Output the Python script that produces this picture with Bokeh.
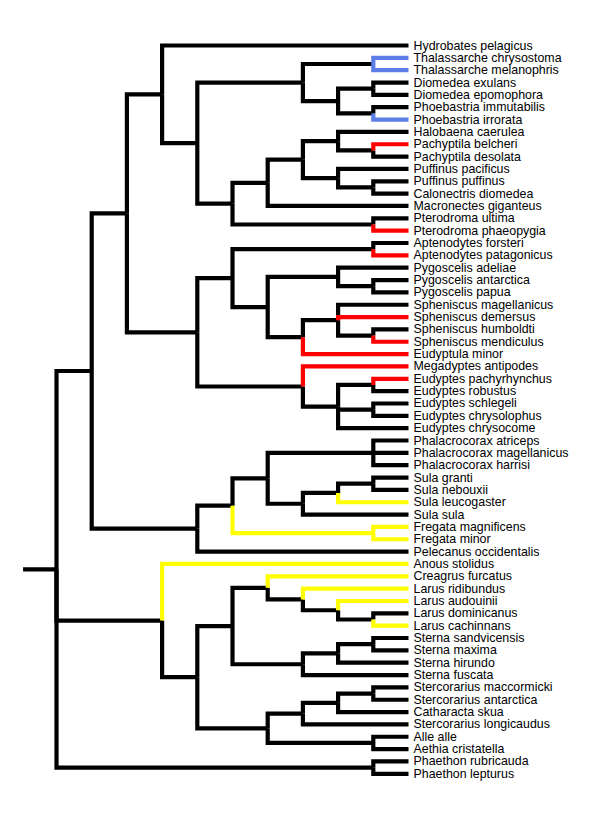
from bokeh.plotting import figure
from bokeh.models import ColumnDataSource, Range1d
from bokeh.core.properties import value
from bokeh.embed import file_html
from bokeh.resources import INLINE

# ---- data -------------------------------------------------------------
TIPS = [
    "Hydrobates pelagicus", "Thalassarche chrysostoma", "Thalassarche melanophris",
    "Diomedea exulans", "Diomedea epomophora", "Phoebastria immutabilis",
    "Phoebastria irrorata", "Halobaena caerulea", "Pachyptila belcheri",
    "Pachyptila desolata", "Puffinus pacificus", "Puffinus puffinus",
    "Calonectris diomedea", "Macronectes giganteus", "Pterodroma ultima",
    "Pterodroma phaeopygia", "Aptenodytes forsteri", "Aptenodytes patagonicus",
    "Pygoscelis adeliae", "Pygoscelis antarctica", "Pygoscelis papua",
    "Spheniscus magellanicus", "Spheniscus demersus", "Spheniscus humboldti",
    "Spheniscus mendiculus", "Eudyptula minor", "Megadyptes antipodes",
    "Eudyptes pachyrhynchus", "Eudyptes robustus", "Eudyptes schlegeli",
    "Eudyptes chrysolophus", "Eudyptes chrysocome", "Phalacrocorax atriceps",
    "Phalacrocorax magellanicus", "Phalacrocorax harrisi", "Sula granti",
    "Sula nebouxii", "Sula leucogaster", "Sula sula", "Fregata magnificens",
    "Fregata minor", "Pelecanus occidentalis", "Anous stolidus",
    "Creagrus furcatus", "Larus ridibundus", "Larus audouinii",
    "Larus dominicanus", "Larus cachinnans", "Sterna sandvicensis",
    "Sterna maxima", "Sterna hirundo", "Sterna fuscata",
    "Stercorarius maccormicki", "Stercorarius antarctica", "Catharacta skua",
    "Stercorarius longicaudus", "Alle alle", "Aethia cristatella",
    "Phaethon rubricauda", "Phaethon lepturus",
]
TIP_PARENT = [
    "B", "Thal", "Thal", "G", "G", "H", "H", "K", "Pach", "Pach", "L", "M", "M",
    "I", "Pter", "Pter", "Apt", "Apt", "Pyg", "Pyg2", "Pyg2", "S", "S", "Sph2",
    "Sph2", "R", "P", "U", "U", "V", "V", "T", "Phal", "Phal", "Phal", "Sula2",
    "Sula2", "CC", "BB", "Freg", "Freg", "Y", "EE", "II", "KK", "LL", "MM", "MM",
    "Ster2", "Ster2", "NN", "JJ", "Sterc2", "Sterc2", "PP", "OO", "Alc", "Alc",
    "Phae", "Phae",
]
TIP_LEVEL = 10

NODES = ["root", "X", "A", "B", "C", "D", "Thal", "F", "G", "H", "E", "I", "J",
         "K", "Pach", "L", "M", "Pter", "N", "O", "Apt", "Q", "Pyg", "Pyg2", "R",
         "S", "Sph2", "P", "T", "U", "V", "Y", "Z", "AA", "Phal", "BB", "CC",
         "Sula2", "Freg", "EE", "FF", "GG", "II", "KK", "LL", "MM", "JJ", "NN",
         "Ster2", "HH", "OO", "PP", "Sterc2", "Alc", "Phae"]
NODE_PARENT = [None, "root", "X", "A", "B", "C", "D", "D", "F", "F", "C", "E",
               "I", "J", "K", "J", "L", "E", "A", "N", "O", "O", "Q", "Pyg", "Q",
               "R", "S", "N", "P", "T", "T", "X", "Y", "Z", "AA", "AA", "BB",
               "CC", "Z", "root", "EE", "FF", "GG", "II", "KK", "LL", "GG", "JJ",
               "NN", "FF", "HH", "OO", "PP", "HH", "root"]
NODE_LEVEL = [0, 1, 2, 3, 4, 7, 9, 8, 9, 9, 5, 6, 7, 8, 9, 8, 9, 9, 4, 5, 9, 6,
              8, 9, 7, 8, 9, 7, 8, 9, 9, 4, 5, 6, 9, 7, 8, 9, 9, 3, 4, 5, 6, 7,
              8, 9, 7, 8, 9, 6, 7, 8, 9, 9, 9]
ROOT_EDGE = 0.95

BLUE_EDGES = ["Thalassarche chrysostoma", "Thalassarche melanophris",
              "Phoebastria irrorata"]
RED_EDGES = ["Pachyptila belcheri", "Pterodroma phaeopygia",
             "Aptenodytes patagonicus", "Spheniscus demersus",
             "Spheniscus mendiculus", "Eudyptula minor", "Megadyptes antipodes",
             "Eudyptes pachyrhynchus"]
YELLOW_EDGES = ["Sula leucogaster", "Freg", "Fregata magnificens",
                "Fregata minor", "Anous stolidus", "Creagrus furcatus",
                "Larus ridibundus", "Larus audouinii", "Larus cachinnans"]
COLORS = {"blue": "#5b7fe6", "red": "#ff0000", "yellow": "#ffff00",
          "black": "#000000"}

# ---- layout -----------------------------------------------------------
xpos, parent, ypos = {}, {}, {}
children = {n: [] for n in NODES}
for n, par, lv in zip(NODES, NODE_PARENT, NODE_LEVEL):
    xpos[n] = lv
    parent[n] = par
    if par is not None:
        children[par].append(n)
for i, (t, par) in enumerate(zip(TIPS, TIP_PARENT)):
    xpos[t] = TIP_LEVEL
    ypos[t] = i
    parent[t] = par
    children[par].append(t)


def gety(n):
    if n not in ypos:
        ys = [gety(c) for c in children[n]]
        ypos[n] = (min(ys) + max(ys)) / 2.0
    return ypos[n]


gety("root")


def colour(n):
    if n in BLUE_EDGES:
        return COLORS["blue"]
    if n in RED_EDGES:
        return COLORS["red"]
    if n in YELLOW_EDGES:
        return COLORS["yellow"]
    return COLORS["black"]


edges = [n for n in list(NODES) + list(TIPS) if parent[n] is not None]
black = [e for e in edges if colour(e) == COLORS["black"]]
coloured = [e for e in edges if colour(e) != COLORS["black"]]


def seg(e):
    p = parent[e]
    return [xpos[p], xpos[p], xpos[e]], [ypos[p], ypos[e], ypos[e]]


p = figure(width=584, height=803, output_backend="svg", toolbar_location=None,
           x_range=Range1d(-1.591, 15.0), y_range=Range1d(61.406, -3.6455),
           min_border=0, outline_line_color=None)
p.axis.visible = False
p.grid.visible = False

for group in (black, coloured):
    xs, ys, cs = [], [], []
    for e in group:
        a, b = seg(e)
        xs.append(a)
        ys.append(b)
        cs.append(colour(e))
    p.multi_line(xs="xs", ys="ys", line_color="c", line_width=4.2,
                 line_join="miter", line_cap="butt",
                 source=ColumnDataSource(dict(xs=xs, ys=ys, c=cs)))

# root stub
p.line(x=[xpos["root"] - ROOT_EDGE, xpos["root"]],
       y=[ypos["root"], ypos["root"]], line_color="black", line_width=4.2)

p.text(x="x", y="y", text="t",
       source=ColumnDataSource(dict(x=[TIP_LEVEL] * len(TIPS),
                                    y=list(range(len(TIPS))), t=TIPS)),
       x_offset=5, text_baseline="middle", text_font_size="12.4px",
       text_font=value("Liberation Sans"), text_color="black")

open("out.html", "w").write(file_html(p, INLINE))
